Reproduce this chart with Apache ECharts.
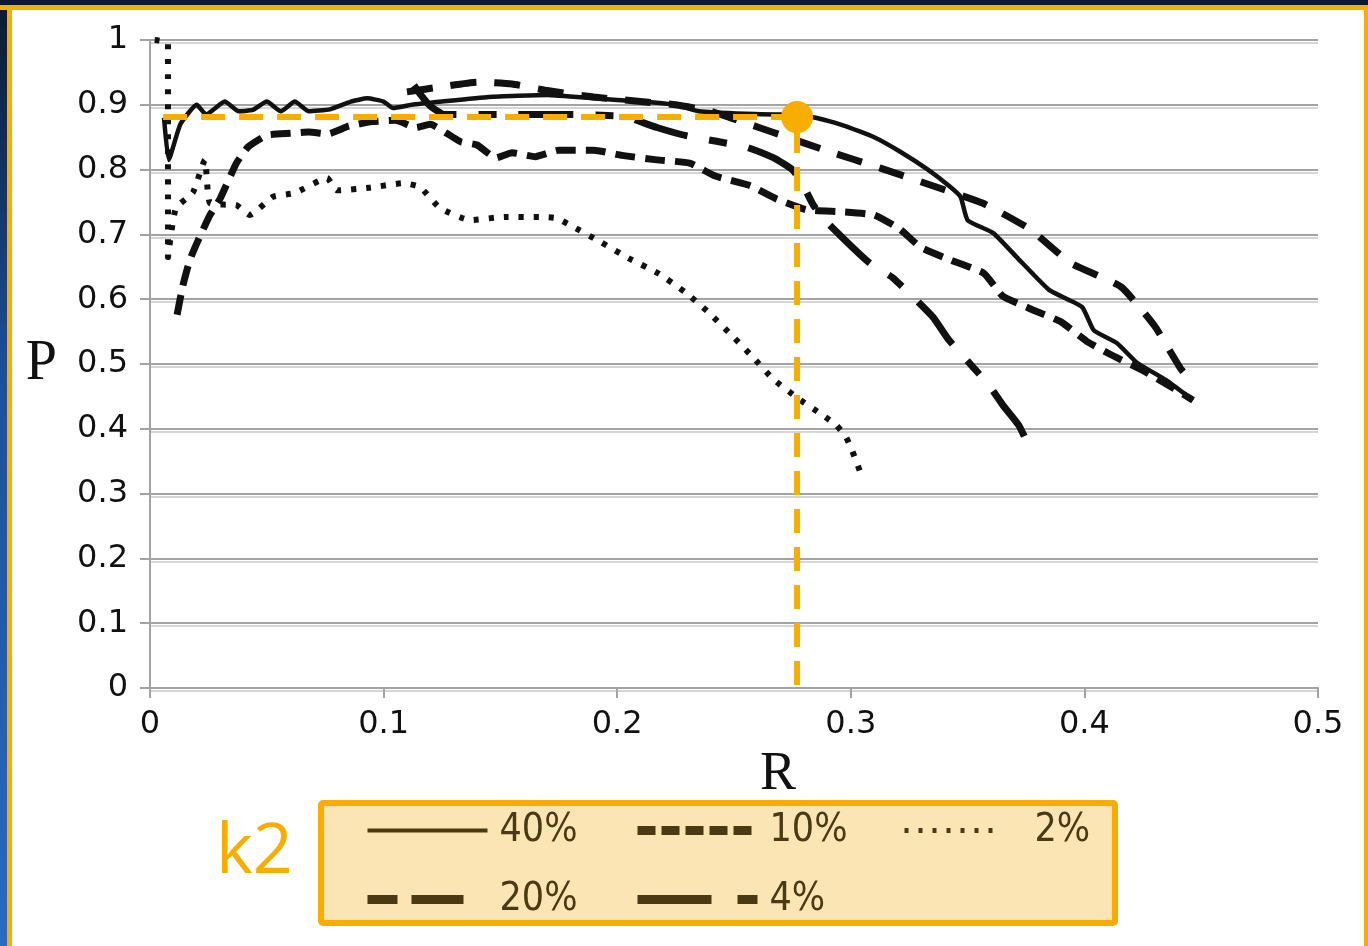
<!DOCTYPE html>
<html>
<head>
<meta charset="utf-8">
<script src="https://cdn.jsdelivr.net/npm/echarts@6/dist/echarts.min.js"></script>
<style>
  html, body { margin: 0; padding: 0; background: #0b1a30; }
  #chart { width: 1368px; height: 946px; }
</style>
</head>
<body>
<div id="chart"></div>
<script>
// Precision (P) against recall (R) for several k2 settings.
const seriesNames = ['40%', '20%', '10%', '4%', '2%'];

const curve40 = [
  [0.006, 0.88], [0.008, 0.815], [0.013, 0.87], [0.02, 0.9], [0.024, 0.885],
  [0.032, 0.905], [0.038, 0.89], [0.044, 0.892], [0.05, 0.905], [0.056, 0.89],
  [0.062, 0.905], [0.068, 0.89], [0.077, 0.893], [0.086, 0.905], [0.093, 0.91],
  [0.1, 0.905], [0.104, 0.895], [0.112, 0.9], [0.125, 0.905], [0.145, 0.912],
  [0.17, 0.915], [0.19, 0.91], [0.21, 0.905], [0.225, 0.9], [0.235, 0.89],
  [0.255, 0.886], [0.27, 0.885], [0.285, 0.88], [0.297, 0.868], [0.31, 0.85],
  [0.321, 0.828], [0.333, 0.8], [0.342, 0.775], [0.347, 0.758], [0.35, 0.722],
  [0.361, 0.702], [0.371, 0.665], [0.385, 0.614], [0.399, 0.588], [0.404, 0.552],
  [0.414, 0.532], [0.4225, 0.502], [0.435, 0.475], [0.4465, 0.444]
];

const curve20 = [
  [0.11, 0.92], [0.125, 0.928], [0.14, 0.935], [0.155, 0.932], [0.17, 0.922],
  [0.19, 0.912], [0.21, 0.905], [0.225, 0.9], [0.24, 0.89], [0.255, 0.872],
  [0.2663, 0.858], [0.289, 0.83], [0.313, 0.802], [0.335, 0.775], [0.3566, 0.748],
  [0.3767, 0.708], [0.394, 0.656], [0.4157, 0.619], [0.43, 0.559], [0.4414, 0.492],
  [0.447, 0.47]
];

const curve10 = [
  [0.0116, 0.576], [0.014, 0.62], [0.017, 0.66], [0.0205, 0.69], [0.0257, 0.73],
  [0.03, 0.755], [0.037, 0.81], [0.042, 0.835], [0.05, 0.853], [0.06, 0.856],
  [0.068, 0.858], [0.076, 0.855], [0.085, 0.867], [0.095, 0.874], [0.105, 0.876],
  [0.114, 0.865], [0.12, 0.87], [0.127, 0.856], [0.133, 0.843], [0.14, 0.838],
  [0.148, 0.818], [0.155, 0.826], [0.165, 0.82], [0.175, 0.83], [0.19, 0.83],
  [0.202, 0.822], [0.217, 0.815], [0.231, 0.81], [0.242, 0.79], [0.257, 0.775],
  [0.268, 0.755], [0.281, 0.738], [0.296, 0.735], [0.31, 0.73], [0.321, 0.708],
  [0.33, 0.68], [0.343, 0.66], [0.357, 0.64], [0.365, 0.605], [0.377, 0.585],
  [0.39, 0.565], [0.401, 0.535], [0.411, 0.515], [0.425, 0.49], [0.437, 0.465],
  [0.4465, 0.444]
];

const curve4 = [
  [0.113, 0.93], [0.116, 0.915], [0.12, 0.898], [0.126, 0.885], [0.15, 0.885],
  [0.18, 0.885], [0.2, 0.883], [0.205, 0.88], [0.217, 0.865], [0.23, 0.852],
  [0.255, 0.835], [0.267, 0.818], [0.275, 0.8], [0.279, 0.78], [0.284, 0.745],
  [0.29, 0.718], [0.308, 0.656], [0.318, 0.633], [0.335, 0.573], [0.342, 0.537],
  [0.359, 0.468], [0.365, 0.437], [0.372, 0.405], [0.376, 0.375]
];

const curve2 = [
  [0.002, 1.0], [0.0077, 0.995], [0.0077, 0.665], [0.011, 0.74], [0.0184, 0.765],
  [0.0235, 0.815], [0.0257, 0.748], [0.037, 0.745], [0.0428, 0.73], [0.0527, 0.758],
  [0.062, 0.764], [0.0758, 0.787], [0.08, 0.768], [0.094, 0.772], [0.1083, 0.779],
  [0.1156, 0.773], [0.124, 0.741], [0.137, 0.722], [0.152, 0.727], [0.167, 0.727],
  [0.174, 0.725], [0.18, 0.714], [0.193, 0.688], [0.205, 0.663], [0.2175, 0.64],
  [0.229, 0.611], [0.239, 0.58], [0.248, 0.548], [0.2577, 0.512], [0.2667, 0.477],
  [0.2774, 0.447], [0.288, 0.421], [0.2937, 0.406], [0.298, 0.387], [0.3005, 0.367],
  [0.305, 0.324]
];

// Highlighted operating point and its guide lines to the axes
const markerPoint = [0.277, 0.881];
const markerGuide = [[0.0056, 0.881], [0.277, 0.881], [0.277, 0]];

const xTicks = { min: 0, max: 0.5, step: 0.1 };
const yTicks = { min: 0, max: 1, step: 0.1 };

const ORANGE = '#F7AE00';
const INK = '#111111';
const LEGEND_INK = '#4b3912';
const tickFont = '"DejaVu Sans", Verdana, sans-serif';
const legendFont = '"DejaVu Sans Condensed", "DejaVu Sans", sans-serif';
const serifFont = '"Liberation Serif", "Times New Roman", serif';

const lineStyles = {
  '40%': { width: 4.5, type: 'solid' },
  '20%': { width: 7, type: [26, 18] },
  '10%': { width: 7, type: [20, 10] },
  '4%':  { width: 7, type: [55, 22, 18, 22] },
  '2%':  { width: 6, type: [5, 10] }
};
const curves = { '40%': curve40, '20%': curve20, '10%': curve10, '4%': curve4, '2%': curve2 };

const lineSeries = seriesNames.map(name => ({
  name,
  type: 'line',
  data: curves[name],
  showSymbol: false,
  symbol: 'none',
  smooth: 0.15,
  itemStyle: { color: INK },
  lineStyle: Object.assign({ color: INK, cap: 'butt', join: 'round' }, lineStyles[name]),
  z: 3
}));

const gridLine = {
  show: true,
  lineStyle: { color: '#a3a3a3', width: 2, shadowColor: '#d6d6d6', shadowOffsetY: 3, shadowBlur: 0 }
};

const legendBase = {
  orient: 'vertical',
  top: 811,
  padding: 0,
  itemWidth: 120,
  itemHeight: 38,
  itemGap: 30,
  selectedMode: false,
  itemStyle: { opacity: 0, borderWidth: 0 },
  textStyle: { fontFamily: legendFont, fontSize: 39, color: LEGEND_INK, padding: [0, 0, 0, 7] }
};

const option = {
  backgroundColor: '#ffffff',
  animation: false,
  grid: { left: 150, right: 50, top: 40, bottom: 258, containLabel: false },
  xAxis: {
    type: 'value',
    min: xTicks.min, max: xTicks.max, interval: xTicks.step,
    name: 'R',
    nameLocation: 'middle',
    nameGap: 60,
    nameTextStyle: { fontFamily: serifFont, fontSize: 54, color: INK, padding: [0, 0, 0, 88] },
    axisLine: { show: true, lineStyle: { color: '#a3a3a3', width: 2 } },
    axisTick: { show: true, length: 10, lineStyle: { color: '#a3a3a3', width: 2 } },
    axisLabel: { margin: 21, fontFamily: tickFont, fontSize: 32, color: INK },
    splitLine: { show: false }
  },
  yAxis: {
    type: 'value',
    min: yTicks.min, max: yTicks.max, interval: yTicks.step,
    name: 'P',
    nameLocation: 'middle',
    nameRotate: 0,
    nameGap: 93,
    nameTextStyle: { fontFamily: serifFont, fontSize: 56, color: INK },
    axisLine: { show: true, lineStyle: { color: '#a3a3a3', width: 2 } },
    axisTick: { show: true, length: 10, lineStyle: { color: '#a3a3a3', width: 2 } },
    axisLabel: { margin: 22, fontFamily: tickFont, fontSize: 32, color: INK },
    splitLine: gridLine
  },
  legend: [
    Object.assign({}, legendBase, {
      left: 363,
      data: [
        { name: '40%', lineStyle: { color: LEGEND_INK, width: 4, type: 'solid' } },
        { name: '20%', lineStyle: { color: LEGEND_INK, width: 9, type: [30, 14, 52, 100] } }
      ]
    }),
    Object.assign({}, legendBase, {
      left: 633,
      data: [
        { name: '10%', lineStyle: { color: LEGEND_INK, width: 9, type: [18, 6] } },
        { name: '4%', lineStyle: { color: LEGEND_INK, width: 9, type: [74, 26, 22, 100] } }
      ]
    }),
    Object.assign({}, legendBase, {
      left: 902,
      itemWidth: 95,
      textStyle: Object.assign({}, legendBase.textStyle, { padding: [0, 0, 0, 30] }),
      data: [
        { name: '2%', lineStyle: { color: LEGEND_INK, width: 5, type: [4, 10] } }
      ]
    })
  ],
  graphic: [
    // page frame
    { type: 'rect', z: 100, shape: { x: 0, y: 0, width: 1368, height: 5 }, style: { fill: '#0b1a30' } },
    { type: 'rect', z: 100, shape: { x: 0, y: 0, width: 7, height: 946 },
      style: { fill: new echarts.graphic.LinearGradient(0, 0, 0, 1, [
        { offset: 0, color: '#0b1a30' }, { offset: 0.4, color: '#1d4f9c' }, { offset: 1, color: '#2a6ac0' }]) } },
    { type: 'rect', z: 101, shape: { x: 0, y: 5, width: 1368, height: 5 }, style: { fill: ORANGE } },
    { type: 'rect', z: 101, shape: { x: 7, y: 5, width: 5, height: 941 }, style: { fill: ORANGE } },
    { type: 'rect', z: 101, shape: { x: 1364, y: 5, width: 4, height: 941 }, style: { fill: ORANGE } },
    // legend panel
    { type: 'rect', z: -1, shape: { x: 321, y: 803, width: 794, height: 120, r: 2 },
      style: { fill: '#fce5b5', stroke: ORANGE, lineWidth: 6 } },
    // k2 caption
    { type: 'text', z: 10, left: 216, top: 818,
      style: { text: 'k2', fill: ORANGE, font: '400 70px "Open Sans", "DejaVu Sans", sans-serif' } }
  ],
  series: lineSeries.concat([
    {
      name: 'guide',
      type: 'line',
      data: markerGuide,
      showSymbol: false,
      symbol: 'none',
      lineStyle: { color: ORANGE, width: 6, type: [24, 14], cap: 'butt' },
      z: 5,
      silent: true
    },
    {
      name: 'point',
      type: 'scatter',
      data: [markerPoint],
      symbol: 'circle',
      symbolSize: 32,
      itemStyle: { color: ORANGE, opacity: 1 },
      z: 6,
      silent: true
    }
  ])
};

const chart = echarts.init(document.getElementById('chart'), null, { renderer: 'canvas' });
chart.setOption(option);
</script>
</body>
</html>
